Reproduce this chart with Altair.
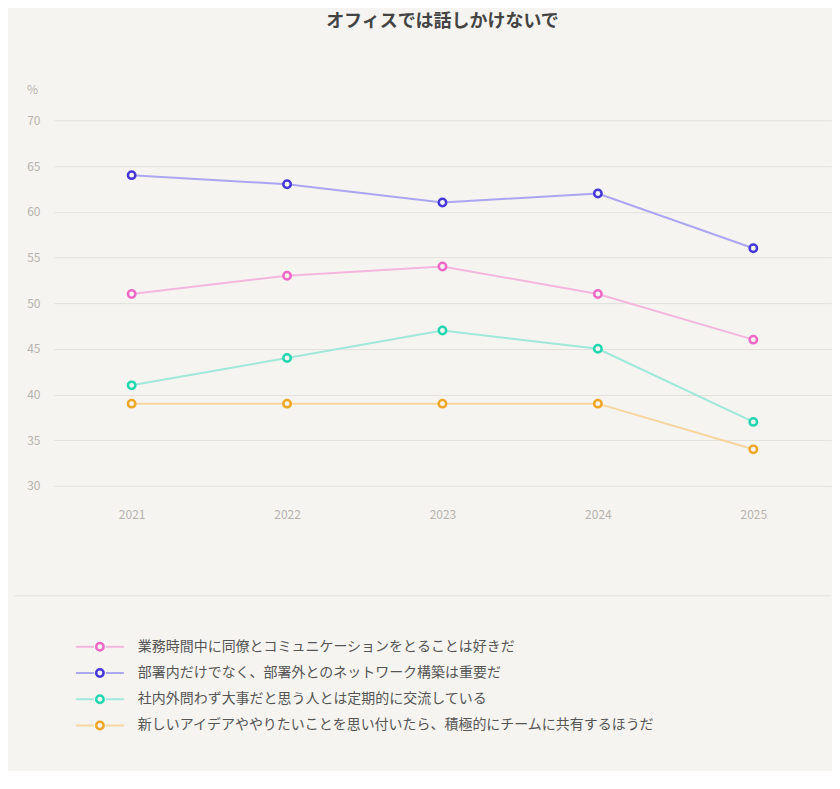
import altair as alt
import pandas as pd

years = ["2021", "2022", "2023", "2024", "2025"]
series = [
    "業務時間中に同僚とコミュニケーションをとることは好きだ",
    "部署内だけでなく、部署外とのネットワーク構築は重要だ",
    "社内外問わず大事だと思う人とは定期的に交流している",
    "新しいアイデアややりたいことを思い付いたら、積極的にチームに共有するほうだ",
]
v_pink = [51, 53, 54, 51, 46]
v_purple = [64, 63, 61, 62, 56]
v_teal = [41, 44, 47, 45, 37]
v_orange = [39, 39, 39, 39, 34]
line_colors = ["#f5b6de", "#aba5f2", "#9fe8da", "#f7d59c"]
point_colors = ["#ee68c8", "#4637d8", "#22d6b0", "#eea624"]

rows = []
for s, vals in zip(series, [v_pink, v_purple, v_teal, v_orange]):
    for y, v in zip(years, vals):
        rows.append({"series": s, "year": y, "value": v})
df = pd.DataFrame(rows)

FONT = "Noto Sans CJK JP"
BG = "#f5f4f0"
W = 778
lc = alt.Scale(domain=series, range=line_colors)
pc = alt.Scale(domain=series, range=point_colors)

x = alt.X("year:O", scale=alt.Scale(type="point", padding=0.5),
          axis=alt.Axis(title=None, labelAngle=0, labelPadding=24, ticks=False,
                        domain=False, labelColor="#b5b3ae", labelFontSize=12))
y = alt.Y("value:Q", scale=alt.Scale(domain=[30, 70], nice=False),
          axis=alt.Axis(title="%", titleAngle=0, titleX=-22, titleY=-24, titleColor="#b5b3ae",
                        titleFontWeight="normal", titleFontSize=12, values=list(range(30, 71, 5)),
                        labelOverlap=False, ticks=False, domain=False, labelColor="#b5b3ae",
                        labelFontSize=12, labelPadding=14, gridColor="#e2e1dc"))

base = alt.Chart(df)
lines = base.mark_line(strokeWidth=2).encode(x=x, y=y, color=alt.Color("series:N", scale=lc, legend=None))
pts = base.mark_point(filled=True, fill=BG, strokeWidth=2.5, size=55, opacity=1).encode(
    x=x, y=y, stroke=alt.Stroke("series:N", scale=pc, legend=None))
top = (lines + pts).properties(width=W, height=366,
    title=alt.TitleParams("オフィスでは話しかけないで", fontSize=18, font=FONT, color="#444",
                          fontWeight="bold", offset=52))

ldf = pd.DataFrame({"series": series})
ly = alt.Y("series:N", sort=series, scale=alt.Scale(type="point", range=[38, 143]), axis=None)
sep = alt.Chart(pd.DataFrame({"a": [0]})).mark_rule(color="#e2e1dc", strokeWidth=1).encode(
    x=alt.value(-40), x2=alt.value(W), y=alt.value(0))
seg1 = alt.Chart(ldf).mark_rule(strokeWidth=2).encode(
    x=alt.value(22), x2=alt.value(40), y=ly, color=alt.Color("series:N", scale=lc, legend=None))
seg2 = alt.Chart(ldf).mark_rule(strokeWidth=2).encode(
    x=alt.value(52), x2=alt.value(70), y=ly, color=alt.Color("series:N", scale=lc, legend=None))
lpt = alt.Chart(ldf).mark_point(filled=True, fill=BG, strokeWidth=2.5, size=55, opacity=1).encode(
    x=alt.value(46), y=ly, stroke=alt.Stroke("series:N", scale=pc, legend=None))
ltxt = alt.Chart(ldf).mark_text(align="left", fontSize=14, font=FONT, color="#555").encode(
    x=alt.value(84), y=ly, text="series:N")
legend = alt.layer(sep, seg1, seg2, lpt, ltxt).properties(width=W, height=170)

chart = alt.vconcat(top, legend, spacing=74).configure(
    background=BG, font=FONT, padding={"left": 5, "right": 0, "top": 5, "bottom": 5}
).configure_view(stroke=None)
chart.save("out.html", embed_options={"renderer": "svg", "actions": False})
